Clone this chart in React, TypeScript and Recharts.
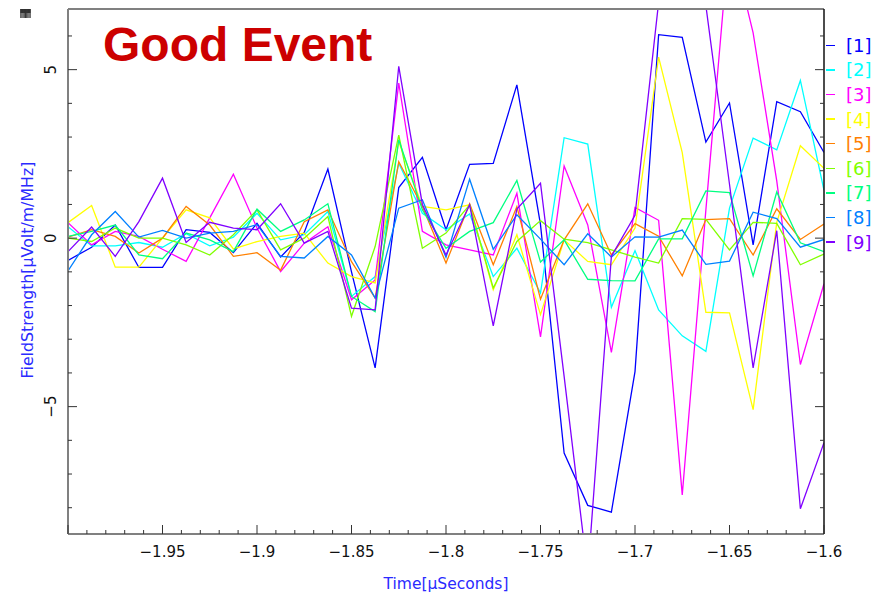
import { LineChart, Line, XAxis, YAxis } from 'recharts';

// sample times in microseconds (12.5 ns steps)
const times = [
  -2.0, -1.9875, -1.975, -1.9625, -1.95, -1.9375, -1.925, -1.9125, -1.9, -1.8875, -1.875,
  -1.8625, -1.85, -1.8375, -1.825, -1.8125, -1.8, -1.7875, -1.775, -1.7625, -1.75, -1.7375,
  -1.725, -1.7125, -1.7, -1.6875, -1.675, -1.6625, -1.65, -1.6375, -1.625, -1.6125, -1.6,
];

// field strength per antenna
const ch1 = [-0.66, -0.27, 0.39, -0.87, -0.87, 0.25, 0.17, -0.43, 0.44, -0.56, 0.17, 2.05, -1.0, -3.85, 1.5, 2.4, 0.25, 2.19, 2.22, 4.55, 0.4, -6.38, -7.93, -8.13, -3.96, 6.04, 5.96, 2.85, 4.01, -0.2, 4.05, 3.75, 2.54];
const ch2 = [0.34, -0.23, -0.23, -0.13, -0.27, 0.13, -0.23, 0.03, 0.74, -0.05, 0.1, 0.79, -1.73, -1.14, 2.22, 0.74, 0.25, 0.72, -1.14, -0.3, -1.63, 2.98, 2.79, -2.05, -0.37, -2.13, -2.9, -3.36, 0.89, 2.97, 2.62, 4.68, 1.42];
const ch3 = [0.46, -0.2, 0.2, 0.05, -0.33, -0.69, 0.6, 1.9, 0.3, -0.99, -0.15, 0.34, -1.83, -1.24, 4.6, 0.2, -0.2, -0.35, -0.5, 1.33, -2.93, 2.14, 0.39, -3.39, 0.91, 0.53, -7.62, 0.84, 9.0, 6.09, 1.7, -3.75, -1.35];
const ch4 = [0.46, 0.97, -0.86, -0.86, 0.0, 0.84, 0.6, -0.32, -0.1, 0.05, 0.15, -0.74, -1.14, -1.33, 2.86, 0.94, 0.84, 0.99, -1.53, 0.1, -2.27, -0.05, -0.69, -0.79, 0.3, 5.37, 2.54, -2.2, -2.22, -5.09, 0.47, 2.74, 2.07];
const ch5 = [0.03, 0.25, 0.05, -0.44, 0.0, 0.94, 0.39, -0.54, -0.43, -0.95, 0.49, 0.84, -0.7, -1.78, 2.27, 0.94, -0.74, 1.02, -0.79, 0.94, -1.81, -0.05, 1.02, -0.5, 0.43, 0.06, -1.12, 0.55, 0.58, -0.5, 0.87, -0.04, 0.42];
const ch6 = [0.0, -0.1, 0.3, 0.0, 0.0, -0.2, -0.5, 0.1, 0.84, -0.35, 0.0, 0.64, -2.32, -0.25, 3.06, -0.3, 0.15, 0.99, -1.48, -0.1, 0.52, -0.03, -0.13, -0.35, -0.56, -0.74, 0.58, 0.56, -0.35, 0.47, 0.44, -0.79, -0.47];
const ch7 = [0.05, 0.2, 0.39, -0.5, -0.61, 0.15, -0.05, -0.4, 0.86, 0.2, 0.54, 1.02, -1.73, -2.18, 2.92, 0.84, -0.3, 0.2, 0.46, 1.71, -0.71, -0.05, -1.22, -1.26, -1.27, -0.02, -0.02, 1.4, 1.35, -1.12, 1.37, -0.14, -0.4];
const ch8 = [-0.97, 0.1, 0.79, 0.03, 0.23, 0.0, 0.15, 0.2, 0.4, -0.54, -0.59, 0.05, -0.5, -1.78, 0.89, 1.14, -0.57, 1.75, -0.33, 0.69, -0.03, -0.79, 0.13, -0.56, 0.04, 0.03, 0.24, -0.78, -0.68, 0.77, 0.58, -0.27, -0.04];
const ch9 = [-0.4, 0.33, -0.54, 0.49, 1.78, -0.13, 0.47, 0.3, 0.25, 1.02, -0.15, 0.2, -2.08, -2.13, 5.1, 1.0, -0.5, 0.99, -2.6, 0.86, 1.63, -4.1, -9.96, -0.54, 0.68, 7.0, 9.5, 6.9, 1.6, -3.85, 0.22, -8.03, -6.07];

const channels = [ch1, ch2, ch3, ch4, ch5, ch6, ch7, ch8, ch9];
const names = ['1', '2', '3', '4', '5', '6', '7', '8', '9'];
const colors = ['#0000ff', '#00ffff', '#ff00ff', '#ffff00', '#ff8000', '#80ff00', '#00ff80', '#0080ff', '#8000ff'];

const X_DOMAIN: [number, number] = [-2.0, -1.6];
const Y_DOMAIN: [number, number] = [-8.78, 6.8];

// minor ticks every 0.01 us and every 1 unit, labels on majors only
const xTicks: number[] = [];
for (let i = 0; i <= 40; i++) xTicks.push(Number((-2.0 + i * 0.01).toFixed(2)));
const yTicks = [-8, -7, -6, -5, -4, -3, -2, -1, 0, 1, 2, 3, 4, 5, 6];

const rows = times.map((t, i) => {
  const r: Record<string, number> = { t };
  channels.forEach((c, j) => (r['c' + (j + 1)] = c[i]));
  return r;
});

const FONT = '"DejaVu Sans", sans-serif';
const AXIS_GRAY = '#808080';
const MAJOR = 9;
const MINOR = 4;

const isMajor = (v: number, step: number) => Math.abs(v / step - Math.round(v / step)) < 1e-6;
const fmt = (v: number) => String(Number(v.toFixed(2))).replace('-', '\u2212');

type TickProps = { x: number; y: number; payload: { value: number } };

function BottomTick({ x, y, payload }: TickProps) {
  const v = payload.value;
  const major = isMajor(v, 0.05);
  const labelled = major && v > X_DOMAIN[0];
  return (
    <g>
      <line x1={x} x2={x} y1={y} y2={y - (major ? MAJOR : MINOR)} stroke="#333" strokeWidth={1} />
      {labelled && (
        <text x={x} y={y + 23} textAnchor="middle" fontFamily={FONT} fontSize={15} fill="#111">
          {fmt(v)}
        </text>
      )}
    </g>
  );
}

function TopTick({ x, y, payload }: TickProps) {
  const major = isMajor(payload.value, 0.05);
  return <line x1={x} x2={x} y1={y} y2={y + (major ? MAJOR : MINOR)} stroke="#333" strokeWidth={1} />;
}

function LeftTick({ x, y, payload }: TickProps) {
  const major = isMajor(payload.value, 5);
  return (
    <g>
      <line x1={x} x2={x + (major ? MAJOR : MINOR)} y1={y} y2={y} stroke="#333" strokeWidth={1} />
      {major && (
        <text
          transform={`translate(${x - 12},${y}) rotate(-90)`}
          textAnchor="middle"
          fontFamily={FONT}
          fontSize={15}
          fill="#111"
        >
          {fmt(payload.value)}
        </text>
      )}
    </g>
  );
}

function RightTick({ x, y, payload }: TickProps) {
  const major = isMajor(payload.value, 5);
  return <line x1={x} x2={x - (major ? MAJOR : MINOR)} y1={y} y2={y} stroke="#333" strokeWidth={1} />;
}

// channel key down the right-hand margin
function ChannelKey() {
  return (
    <div style={{ position: 'absolute', left: 826, top: 33, fontFamily: FONT, fontSize: 18 }}>
      {names.map((n, i) => (
        <div key={n} style={{ height: 24.6, display: 'flex', alignItems: 'center', color: colors[i] }}>
          <span style={{ width: 9, height: 1.5, background: colors[i], marginRight: 11 }} />
          <span>[{n}]</span>
        </div>
      ))}
    </div>
  );
}

export default function App() {
  return (
    <div
      style={{
        position: 'absolute',
        left: 0,
        top: 0,
        width: 872,
        height: 593,
        background: '#fff',
        overflow: 'hidden',
        zIndex: 1,
      }}
    >
      <LineChart width={872} height={593} data={rows} margin={{ top: 0, right: 0, bottom: 0, left: 0 }}>
        <XAxis
          dataKey="t"
          type="number"
          domain={X_DOMAIN}
          ticks={xTicks}
          interval={0}
          allowDataOverflow
          height={59}
          tickSize={0}
          tickMargin={0}
          tickLine={false}
          axisLine={{ stroke: AXIS_GRAY, strokeWidth: 2 }}
          tick={(p: TickProps) => <BottomTick {...p} />}
        />
        <XAxis
          xAxisId="top"
          orientation="top"
          type="number"
          domain={X_DOMAIN}
          ticks={xTicks}
          interval={0}
          allowDataOverflow
          height={9}
          tickSize={0}
          tickMargin={0}
          tickLine={false}
          axisLine={{ stroke: AXIS_GRAY, strokeWidth: 2 }}
          tick={(p: TickProps) => <TopTick {...p} />}
        />
        <YAxis
          type="number"
          domain={Y_DOMAIN}
          ticks={yTicks}
          interval={0}
          allowDataOverflow
          width={68}
          tickSize={0}
          tickMargin={0}
          tickLine={false}
          axisLine={{ stroke: AXIS_GRAY, strokeWidth: 2 }}
          tick={(p: TickProps) => <LeftTick {...p} />}
        />
        <YAxis
          yAxisId="right"
          orientation="right"
          type="number"
          domain={Y_DOMAIN}
          ticks={yTicks}
          interval={0}
          allowDataOverflow
          width={48}
          tickSize={0}
          tickMargin={0}
          tickLine={false}
          axisLine={{ stroke: '#111', strokeWidth: 1.5 }}
          tick={(p: TickProps) => <RightTick {...p} />}
        />
        {names.map((n, i) => (
          <Line
            key={n}
            dataKey={'c' + (i + 1)}
            name={n}
            type="linear"
            stroke={colors[i]}
            strokeWidth={1.3}
            dot={false}
            isAnimationActive={false}
          />
        ))}
      </LineChart>
      <ChannelKey />
      <svg
        width={872}
        height={593}
        style={{ position: 'absolute', left: 0, top: 0, pointerEvents: 'none' }}
      >
        <text x={103} y={61} fontFamily='"Liberation Sans", Arial, sans-serif' fontWeight="bold" fontSize={48} fill="#cc0000">
          Good Event
        </text>
        <text x={446} y={589} textAnchor="middle" fontFamily={FONT} fontSize={15.5} fill="#2a2aff">
          Time[μSeconds]
        </text>
        <text
          transform="translate(33,270) rotate(-90)"
          textAnchor="middle"
          fontFamily={FONT}
          fontSize={15.8}
          fill="#2a2aff"
        >
          FieldStrength[μVolt/m/MHz]
        </text>
      </svg>
    </div>
  );
}
